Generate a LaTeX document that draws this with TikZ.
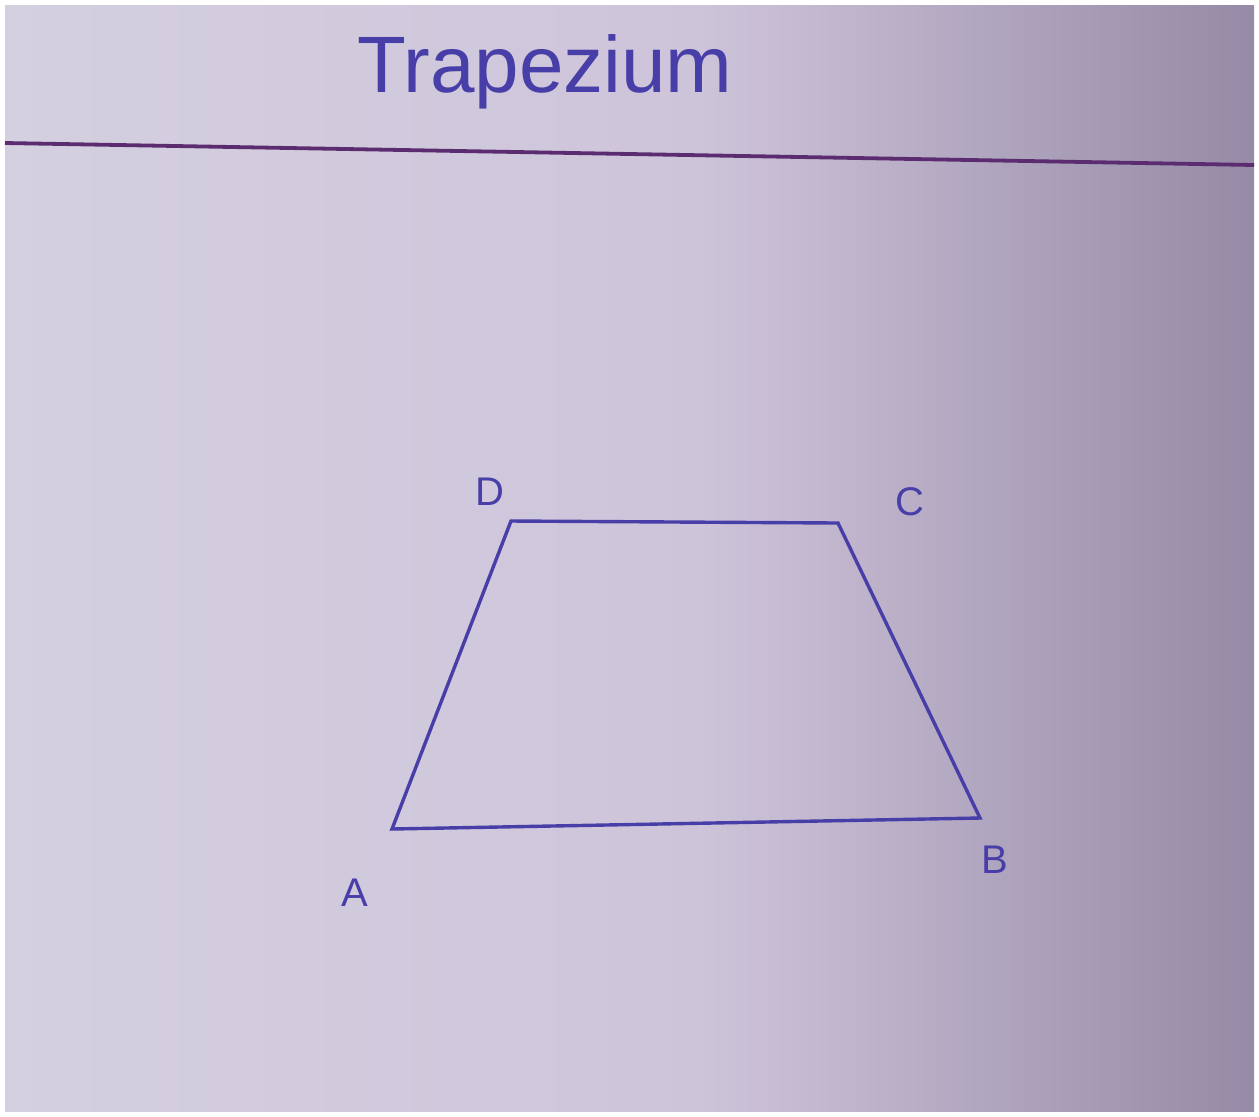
\documentclass[tikz,border=0pt]{standalone}
\usepackage{fontspec}
\setmainfont{Liberation Sans}
\definecolor{pen}{RGB}{72,62,168}
\definecolor{rule}{RGB}{92,44,112}
\definecolor{paperL}{RGB}{212,208,224}
\definecolor{paperM}{RGB}{206,196,218}
\definecolor{paperR}{RGB}{150,138,166}
\begin{document}
\begin{tikzpicture}[x=0.5pt,y=-0.5pt,
  edge/.style={draw=pen,line width=1.7pt,line join=miter},
  vlabel/.style={text=pen,font=\fontsize{20}{22}\selectfont,inner sep=0pt}]
\useasboundingbox (0,0) rectangle (1259,1116);
\fill[white] (0,0) rectangle (1259,1116);
\shade[left color=paperL,right color=paperM] (5,5) rectangle (700,1111);
\shade[left color=paperM,right color=paperR] (699,5) rectangle (1254,1111);
% top rule
\coordinate (r1) at (5,143);
\coordinate (r2) at (1254,165);
\draw[rule,line width=1.9pt] (r1) -- (r2);
% title
\node[text=pen,font=\fontsize{40}{44}\selectfont,inner sep=0pt] (title) at (545,72) {Trapezium};
% trapezium vertices
\coordinate (A) at (392,829);
\coordinate (B) at (980,818);
\coordinate (C) at (838,523);
\coordinate (D) at (511,521);
\draw[edge] (A) -- (B) -- (C) -- (D) -- cycle;
% labels
\node[vlabel] (lA) at (355,893) {A};
\node[vlabel] (lB) at (995,860) {B};
\node[vlabel] (lC) at (910,502) {C};
\node[vlabel] (lD) at (490,492) {D};
\end{tikzpicture}
\end{document}
